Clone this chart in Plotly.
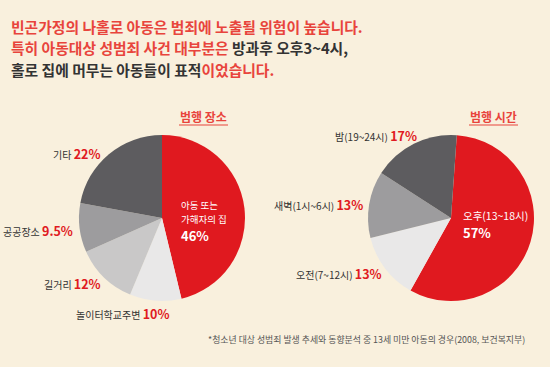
import plotly.graph_objects as go

W, H = 550, 367

# Data
place_labels = ["아동 또는 가해자의 집", "놀이터학교주변", "길거리", "공공장소", "기타"]
place_values = [46, 10, 12, 9.5, 22]
place_colors = ["#e0191f", "#e9e8e8", "#c9c8c8", "#9d9c9e", "#5d5c5f"]

time_labels = ["오후(13~18시)", "오전(7~12시)", "새벽(1시~6시)", "밤(19~24시)"]
time_values = [57, 13, 13, 17]
time_colors = ["#e0191f", "#e9e8e8", "#9d9c9e", "#5d5c5f"]

FONT = "Noto Sans CJK KR"
RED = "#e8443c"
PRED = "#e01a22"
DARK = "#333333"

def px(x):
    return x / W

def py(y):
    return 1 - y / H

def dom(cx, cy, r):
    return dict(x=[px(cx - r), px(cx + r)], y=[py(cy + r), py(cy - r)])

fig = go.Figure()
fig.add_trace(go.Pie(labels=place_labels, values=place_values, sort=False,
                     direction="clockwise", rotation=0, textinfo="none",
                     hoverinfo="label+value", showlegend=False,
                     marker=dict(colors=place_colors, line=dict(width=0)),
                     domain=dom(162, 218, 83)))
fig.add_trace(go.Pie(labels=time_labels, values=time_values, sort=False,
                     direction="clockwise", rotation=4, textinfo="none",
                     hoverinfo="label+value", showlegend=False,
                     marker=dict(colors=time_colors, line=dict(width=0)),
                     domain=dom(451, 218, 83)))

ann = []

def text(x, y, t, size=11, color=DARK, anchor="left", bold=False, yanchor="middle"):
    if bold:
        t = "<b>" + t + "</b>"
    ann.append(dict(x=px(x), y=py(y), xref="paper", yref="paper", text=t,
                    showarrow=False, xanchor=anchor, yanchor=yanchor, align="left",
                    font=dict(family=FONT, size=size, color=color)))

# Header
def red(s):
    return f"<span style='color:{RED}'>{s}</span>"

def blk(s):
    return f"<span style='color:{DARK}'>{s}</span>"

text(9, 26, red("빈곤가정의 나홀로 아동은 범죄에 노출될 위험이 높습니다."), size=14.8, bold=True)
text(9, 48, red("특히 아동대상 성범죄 사건 대부분은 ") + blk("방과후 오후3~4시,"), size=14.8, bold=True)
text(9, 69, blk("홀로 집에 머무는 아동들이 표적") + red("이었습니다."), size=14.8, bold=True)

# Section titles
text(203, 117, "범행 장소", size=12, color=RED, anchor="center", bold=True)
text(493, 117, "범행 시간", size=12, color=RED, anchor="center", bold=True)

def lab(x, y, name, pct, anchor="left"):
    t = f"{name} <span style='color:{PRED}; font-size:12.5px'><b>{pct}</b></span>"
    text(x, y, t, size=10, anchor=anchor)

# Pie 1 labels
lab(51, 153, "기타", "22%")
lab(1, 230, "공공장소", "9.5%")
lab(42, 283, "길거리", "12%")
lab(74, 313, "놀이터학교주변", "10%")

# Pie 2 labels
lab(333, 136, "밤(19~24시)", "17%")
lab(272, 204, "새벽(1시~6시)", "13%")
lab(294, 273, "오전(7~12시)", "13%")

# Inside labels
text(179, 205, "아동 또는", size=9.5, color="white")
text(179, 219, "가해자의 집", size=9.5, color="white")
text(179, 236, "46%", size=13, color="white", bold=True)
text(461, 215, "오후(13~18시)", size=10.5, color="white")
text(461, 232, "57%", size=13, color="white", bold=True)

# Footnote
text(527, 339, "*청소년 대상 성범죄 발생 추세와 동향분석 중 13세 미만 아동의 경우(2008, 보건복지부)",
     size=8.9, color="#555555", anchor="right")

shapes = [
    dict(type="line", xref="paper", yref="paper", x0=px(179), x1=px(228),
         y0=py(125), y1=py(125), line=dict(color=RED, width=1.2)),
    dict(type="line", xref="paper", yref="paper", x0=px(469), x1=px(518),
         y0=py(125), y1=py(125), line=dict(color=RED, width=1.2)),
]

fig.update_layout(width=W, height=H, margin=dict(l=0, r=0, t=0, b=0),
                  paper_bgcolor="#f9f0dd", plot_bgcolor="#f9f0dd",
                  annotations=ann, shapes=shapes,
                  font=dict(family=FONT))

fig.write_html("out.html", config={"displayModeBar": False},
               post_script="document.body.style.margin='0';document.body.style.padding='0';document.body.style.background='#f9f0dd';")
